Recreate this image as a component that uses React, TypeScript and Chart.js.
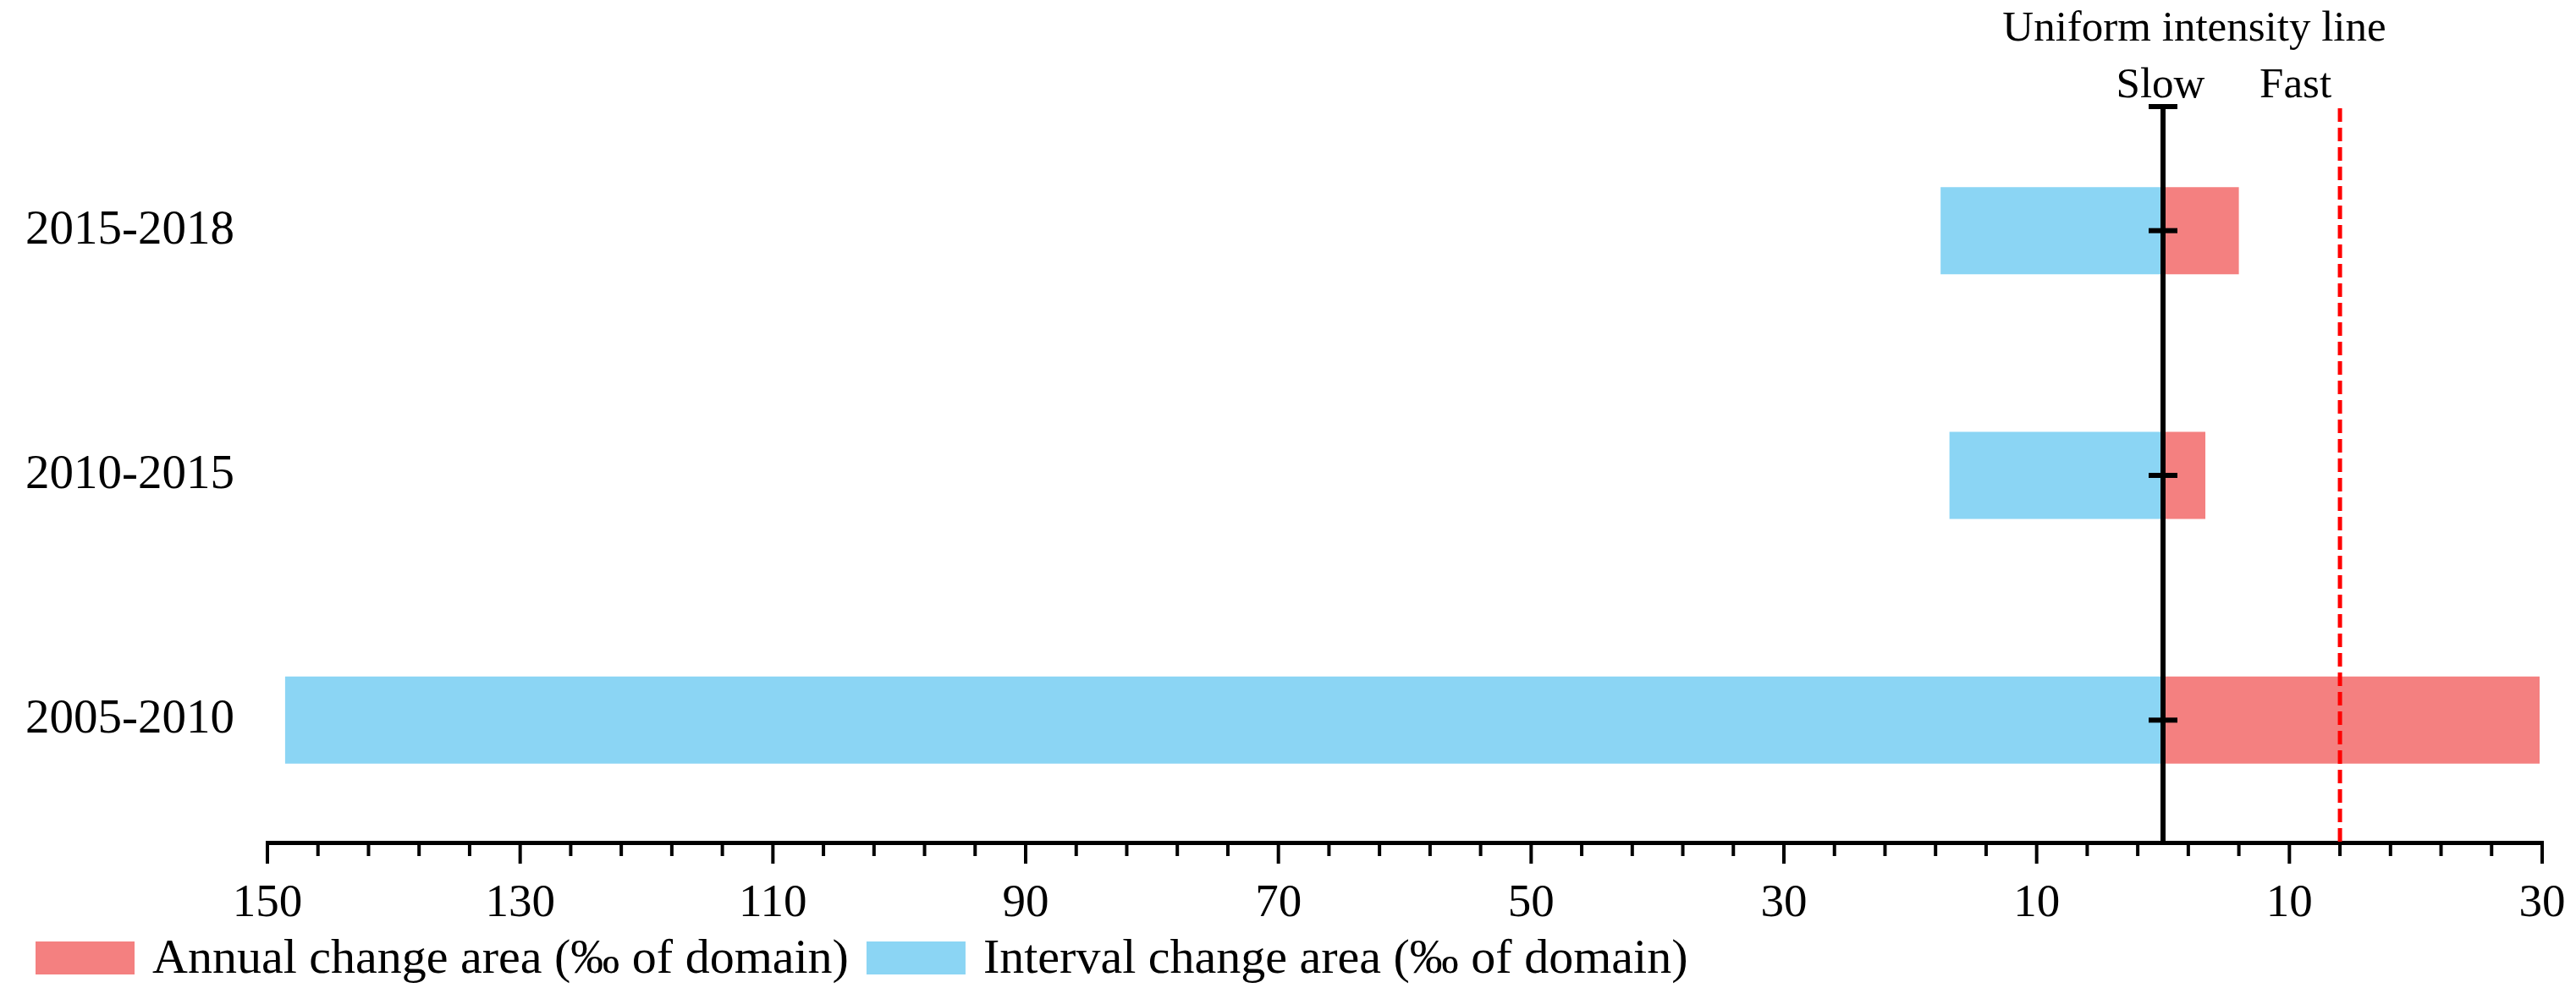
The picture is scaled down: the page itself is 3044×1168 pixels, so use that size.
import { useEffect, useRef } from 'react';
import { Chart, registerables } from 'chart.js';

Chart.register(...registerables);

// ---- data ----
const categories = ['2015-2018', '2010-2015', '2005-2010'];
const annualChange = [6.0, 3.35, 29.8];
const intervalChange = [-17.6, -16.9, -148.6];
const seriesLabels = ['Annual change area (‰ of domain)', 'Interval change area (‰ of domain)'];
const seriesColors = ['#F48080', '#8BD5F4'];
const majorTicks = [-150, -130, -110, -90, -70, -50, -30, -10, 10, 30];
const minorStep = 4;
const uniformLineValue = 0;
const fastLineValue = 14;
const titleText = 'Uniform intensity line';
const slowText = 'Slow';
const fastText = 'Fast';

const FONT = '"Liberation Serif", "Times New Roman", serif';

function buildTickValues(): number[] {
  const out: number[] = [];
  for (let i = 0; i < majorTicks.length - 1; i++) {
    const a = majorTicks[i];
    const b = majorTicks[i + 1];
    for (let v = a; v < b; v += minorStep) out.push(v);
  }
  out.push(majorTicks[majorTicks.length - 1]);
  return out;
}

const overlayPlugin = {
  id: 'overlay',
  afterDraw(chart: any) {
    const { ctx, chartArea, scales } = chart;
    const xs = scales.x;
    const ys = scales.y;
    const x0 = xs.getPixelForValue(uniformLineValue);
    const xr = xs.getPixelForValue(fastLineValue);
    ctx.save();

    // x axis line
    ctx.fillStyle = '#000';
    ctx.fillRect(xs.left - 2, chartArea.bottom - 2, xs.right - xs.left + 4, 5);

    // ticks
    xs.ticks.forEach((t: any) => {
      const x = xs.getPixelForValue(t.value);
      const len = majorTicks.includes(t.value) ? 25 : 16;
      ctx.fillRect(x - 2, chartArea.bottom, 4, len);
    });

    // red dashed line
    ctx.strokeStyle = '#FF0000';
    ctx.lineWidth = 5;
    ctx.setLineDash([16, 7]);
    ctx.beginPath();
    ctx.moveTo(xr, chartArea.top);
    ctx.lineTo(xr, chartArea.bottom);
    ctx.stroke();
    ctx.setLineDash([]);

    // black uniform line with caps
    ctx.strokeStyle = '#000';
    ctx.lineWidth = 6;
    ctx.beginPath();
    ctx.moveTo(x0, chartArea.top - 5);
    ctx.lineTo(x0, chartArea.bottom);
    ctx.stroke();
    ctx.fillStyle = '#000';
    ctx.fillRect(x0 - 17, chartArea.top - 5, 34, 6);
    categories.forEach((_, i) => {
      const y = ys.getPixelForValue(i);
      ctx.fillRect(x0 - 17, y - 3, 34, 6);
    });

    // annotations text
    ctx.fillStyle = '#000';
    ctx.font = `51px ${FONT}`;
    ctx.textBaseline = 'alphabetic';
    ctx.textAlign = 'center';
    ctx.fillText(titleText, x0 + 37, 48);
    ctx.fillText(slowText, x0 - 3, 115);
    ctx.textAlign = 'right';
    ctx.fillText(fastText, xr - 10, 115);

    // legend
    const ds = chart.data.datasets;
    const boxW = 117;
    const boxH = 39;
    const boxY = 1113;
    ctx.font = `58px ${FONT}`;
    ctx.textAlign = 'left';
    ctx.textBaseline = 'middle';
    let lx = 42;
    ds.forEach((d: any) => {
      ctx.fillStyle = d.backgroundColor;
      ctx.fillRect(lx, boxY, boxW, boxH);
      ctx.fillStyle = '#000';
      const tx = lx + boxW + 21;
      ctx.fillText(d.label, tx, boxY + boxH / 2 + 2);
      lx = tx + ctx.measureText(d.label).width + 21;
    });

    ctx.restore();
  },
};

export default function App() {
  const ref = useRef<HTMLCanvasElement | null>(null);

  useEffect(() => {
    document.body.style.margin = '0';
    if (!ref.current) return;
    const tickValues = buildTickValues();
    const chart = new Chart(ref.current, {
      type: 'bar',
      data: {
        labels: categories,
        datasets: [
          {
            label: seriesLabels[0],
            data: annualChange,
            backgroundColor: seriesColors[0],
            borderWidth: 0,
            grouped: false,
            barPercentage: 0.356,
            categoryPercentage: 1,
          } as any,
          {
            label: seriesLabels[1],
            data: intervalChange,
            backgroundColor: seriesColors[1],
            borderWidth: 0,
            grouped: false,
            barPercentage: 0.356,
            categoryPercentage: 1,
          } as any,
        ],
      },
      options: {
        indexAxis: 'y',
        responsive: false,
        maintainAspectRatio: false,
        animation: false,
        layout: { padding: { top: 128, right: 40, bottom: 0, left: 0 } },
        plugins: {
          legend: { display: false },
          tooltip: { enabled: false },
          title: { display: false },
        },
        scales: {
          y: {
            type: 'category',
            grid: { display: false, drawTicks: false },
            border: { display: false },
            ticks: {
              color: '#000',
              font: { family: FONT, size: 57 },
              padding: 39,
            },
            afterFit: (s: any) => {
              s.width = 316;
              s.paddingTop = 0;
              s.paddingBottom = 0;
            },
          },
          x: {
            type: 'linear',
            min: majorTicks[0],
            max: majorTicks[majorTicks.length - 1],
            grid: { display: true, drawOnChartArea: false, drawTicks: false },
            border: { display: false },
            afterBuildTicks: (s: any) => {
              s.ticks = tickValues.map((v) => ({ value: v }));
            },
            ticks: {
              autoSkip: false,
              maxRotation: 0,
              color: '#000',
              font: { family: FONT, size: 55 },
              padding: 40,
              callback: (v: any) => (majorTicks.includes(Number(v)) ? String(Math.abs(Number(v))) : ''),
            },
            afterFit: (s: any) => {
              s.height = 172;
              s.paddingLeft = 0;
              s.paddingRight = 0;
            },
          },
        },
      },
      plugins: [overlayPlugin],
    });
    return () => chart.destroy();
  }, []);

  return <canvas ref={ref} width={3044} height={1168} style={{ display: 'block' }} />;
}
